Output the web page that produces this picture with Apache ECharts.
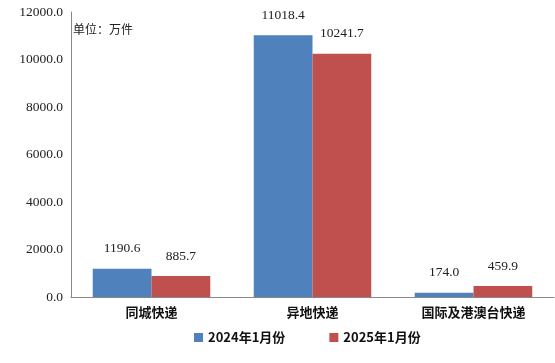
<!DOCTYPE html>
<html><head><meta charset="utf-8">
<script src="https://cdn.jsdelivr.net/npm/echarts@6/dist/echarts.min.js"></script>
<style>html,body{margin:0;padding:0;background:#fff}#c{width:555px;height:363px}</style>
</head><body><div id="c"></div>
<script>
const categories = ['同城快递', '异地快递', '国际及港澳台快递'];
const series2024 = [1190.6, 11018.4, 174.0];
const series2025 = [885.7, 10241.7, 459.9];
const seriesNames = ['2024年1月份', '2025年1月份'];
const unitText = '单位：万件';

const SERIF = 'Liberation Serif';
const chart = echarts.init(document.getElementById('c'));
const labelStyle = {
  show: true, position: 'top', distance: 13,
  fontFamily: SERIF, fontSize: 13.5, color: '#222',
  formatter: p => p.value.toFixed(1)
};
chart.setOption({
  animation: false,
  grid: { left: 71, right: 1, top: 12, bottom: 66 },
  graphic: [{ type: 'text', left: 73, top: 23, style: { text: unitText, fontSize: 12, fontFamily: '"Noto Sans CJK SC"', fill: '#222' } }],
  legend: {
    bottom: 14, left: 189, itemWidth: 9, itemHeight: 9, itemGap: 44,
    icon: 'rect',
    textStyle: { fontFamily: '"Noto Sans CJK SC"', fontWeight: 'bold', fontSize: 13, color: '#111' },
    data: seriesNames
  },
  xAxis: {
    type: 'category', data: categories,
    axisLine: { lineStyle: { color: '#888' } },
    axisTick: { show: false },
    axisLabel: { fontFamily: '"Noto Sans CJK SC"', fontWeight: 'bold', fontSize: 13, color: '#111', margin: 9 }
  },
  yAxis: {
    type: 'value', min: 0, max: 12000, interval: 2000,
    axisLine: { show: true, lineStyle: { color: '#888' } },
    axisTick: { show: false },
    splitLine: { show: false },
    axisLabel: { fontFamily: SERIF, fontSize: 13.5, color: '#222', margin: 8,
      formatter: v => v.toFixed(1) }
  },
  series: [
    { name: seriesNames[0], type: 'bar', data: series2024, barGap: '0%', barCategoryGap: '27%',
      itemStyle: { color: '#4F81BD' }, label: labelStyle },
    { name: seriesNames[1], type: 'bar', data: series2025,
      itemStyle: { color: '#C0504D' }, label: labelStyle }
  ]
});
</script></body></html>
